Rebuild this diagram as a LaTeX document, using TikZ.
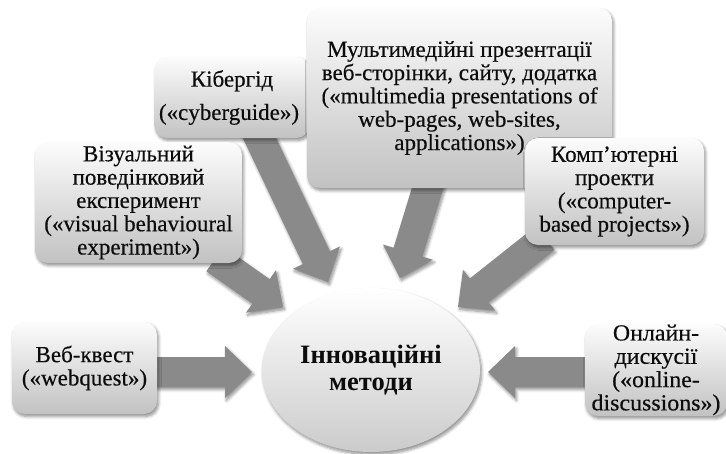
\documentclass[tikz,border=0pt]{standalone}
\usepackage{fontspec}
\setmainfont{Liberation Serif}
\newfontfamily\boxfont[FakeBold=0.35]{Liberation Serif}
\usetikzlibrary{calc,shapes.geometric,shadows.blur}
\definecolor{arrowgray}{RGB}{138,138,138}
\definecolor{boxtop}{RGB}{252,252,252}
\definecolor{boxbot}{RGB}{194,194,194}
\definecolor{txt}{RGB}{12,12,12}
\tikzset{
  softshadow/.style={blur shadow={shadow xshift=1.5pt,shadow yshift=-2.5pt,shadow blur radius=3pt,shadow blur steps=6,shadow opacity=45}},
  box/.style={rectangle,rounded corners=13pt,top color=boxtop,bottom color=boxbot,draw=none,
    softshadow,inner sep=0pt,align=center,text=txt,
    font=\boxfont\fontsize{23}{23.3}\selectfont},
  centre/.style={ellipse,top color=white,bottom color=boxbot!85!white,draw=none,softshadow,
    inner sep=0pt,align=center,text=txt,font=\bfseries\fontsize{26.5}{27}\selectfont},
  blockarr/.style={fill=arrowgray,draw=none,softshadow}
}
\newcommand\blockarrow[2]{%
  \path (#2) coordinate (tmpT) ($(#2)!27pt!(#1)$) coordinate (tmpH);
  \path[blockarr] ($(#1)!15pt!90:(tmpT)$) -- ($(tmpH)!15pt!90:(tmpT)$) -- ($(tmpH)!26pt!90:(tmpT)$)
    -- (tmpT) -- ($(tmpH)!26pt!-90:(tmpT)$) -- ($(tmpH)!15pt!-90:(tmpT)$) -- ($(#1)!15pt!-90:(tmpT)$) -- cycle;
}
\begin{document}
\begin{tikzpicture}[x=1pt,y=-1pt]
\useasboundingbox (0,0) rectangle (726,453);
% arrow end points
\coordinate (s1) at (250,118);  \coordinate (t1) at (328,282);
\coordinate (s2) at (430,180);  \coordinate (t2) at (400,278);
\coordinate (s3) at (545,238);  \coordinate (t3) at (458,307);
\coordinate (s4) at (215,259);  \coordinate (t4) at (283,307);
\coordinate (s5) at (150,372);  \coordinate (t5) at (252,372);
\coordinate (s6) at (592,372);  \coordinate (t6) at (488,372);
\blockarrow{s1}{t1}
\blockarrow{s2}{t2}
\blockarrow{s3}{t3}
\blockarrow{s4}{t4}
\blockarrow{s5}{t5}
\blockarrow{s6}{t6}
% boxes
\node[box,minimum width=155pt,minimum height=81pt] (kib) at (232,97.5)
  {Кібергід\\[10pt](«cyberguide»)\kern6pt};
\node[box,minimum width=305pt,minimum height=180pt] (mult) at (459.5,98)
  {Мультимедійні презентації\\веб-сторінки, сайту, додатка\\(«multimedia presentations of\\web-pages, web-sites,\\applications»)};
\node[box,minimum width=179pt,minimum height=107pt] (komp) at (614.5,191.5)
  {Комп’ютерні\\проекти\\(«computer-\\based projects»)};
\node[box,minimum width=207pt,minimum height=121pt] (viz) at (138.5,202.5)
  {Візуальний\\поведінковий\\експеримент\\(«visual behavioural\\experiment»)};
\node[box,minimum width=145pt,minimum height=92pt] (web) at (84.5,368)
  {Веб-квест\\(«webquest»)};
\node[box,minimum width=142pt,minimum height=92pt] (onl) at (656,370)
  {\scalebox{1.04}[1]{Онлайн-}\\\scalebox{1.04}[1]{дискусії}\\\scalebox{1.04}[1]{(«online-}\\\scalebox{1.04}[1]{discussions»)}};
\node[centre,minimum width=218pt,minimum height=164pt] (ctr) at (371,370)
  {Інноваційні\\методи};
\end{tikzpicture}
\end{document}
